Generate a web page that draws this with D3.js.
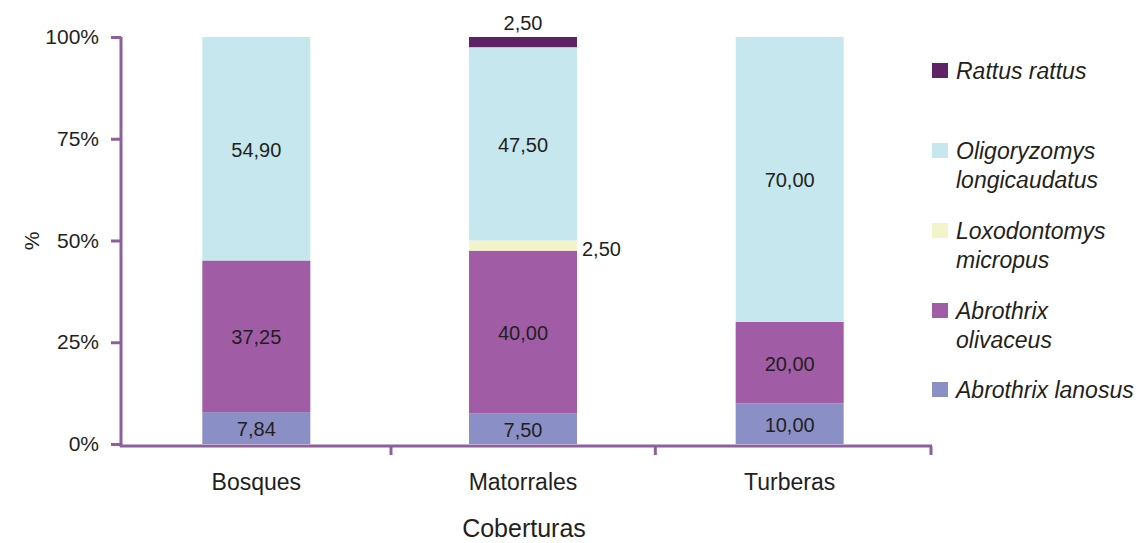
<!DOCTYPE html>
<html><head><meta charset="utf-8">
<script src="https://cdn.jsdelivr.net/npm/d3@7"></script>
<style>body{margin:0;background:#fff}svg{display:block}text{font-family:"Liberation Sans",Arial,sans-serif;fill:#231f20}</style>
</head><body><svg id="c" width="1143" height="543"></svg>
<script>
const categories = ["Bosques", "Matorrales", "Turberas"];
const seriesNames = ["Abrothrix lanosus", "Abrothrix olivaceus", "Loxodontomys micropus", "Oligoryzomys longicaudatus", "Rattus rattus"];
const lanosus = [7.84, 7.50, 10.00];
const olivaceus = [37.25, 40.00, 20.00];
const loxodontomys = [0, 2.50, 0];
const oligoryzomys = [54.90, 47.50, 70.00];
const rattus = [0, 2.50, 0];
const yTicks = [0, 25, 50, 75, 100];
const colors = ["#8a90c6", "#a05da5", "#f4f4cb", "#c5e7ed", "#5e2265"];
const legendLines = [
  ["Rattus rattus"],
  ["Oligoryzomys", "longicaudatus"],
  ["Loxodontomys", "micropus"],
  ["Abrothrix", "olivaceus"],
  ["Abrothrix lanosus"]
];
const legendColors = [colors[4], colors[3], colors[2], colors[1], colors[0]];

const seriesVals = [lanosus, olivaceus, loxodontomys, oligoryzomys, rattus];
const data = categories.map((c, i) => {
  const o = {cat: c};
  seriesNames.forEach((s, k) => o[s] = seriesVals[k][i]);
  return o;
});
const stack = d3.stack().keys(seriesNames)(data);

const svg = d3.select("#c");
const axisColor = "#8c5f9d";
const x = d3.scaleBand().domain(categories).range([122, 922]).paddingInner(0).paddingOuter(0);
const y = d3.scaleLinear().domain([0, 100]).range([444, 37]);
const barW = 108;

// bars
stack.forEach((layer, k) => {
  svg.append("g").selectAll("rect").data(layer).join("rect")
    .attr("x", d => x(d.data.cat) + x.bandwidth() / 2 - barW / 2 + 1)
    .attr("width", barW)
    .attr("y", d => y(d[1]))
    .attr("height", d => y(d[0]) - y(d[1]))
    .attr("fill", colors[k]);
});

// labels
stack.forEach((layer, k) => {
  layer.forEach(d => {
    const v = d[1] - d[0];
    if (v <= 0) return;
    const cx = x(d.data.cat) + x.bandwidth() / 2 + 1;
    let tx = cx, ty = (y(d[0]) + y(d[1])) / 2 + 1, anchor = "middle";
    if (seriesNames[k] === "Rattus rattus") { ty = y(d[1]) - 14; }
    else if (seriesNames[k] === "Loxodontomys micropus") { tx = cx + barW / 2 + 5; anchor = "start"; ty += 2; }
    svg.append("text").attr("x", tx).attr("y", ty).attr("dy", "0.35em")
      .attr("text-anchor", anchor).attr("font-size", 20)
      .text(d3.format(".2f")(v).replace(".", ","));
  });
});

// y axis
const yAxis = svg.append("g").attr("transform", "translate(121,0)")
  .call(d3.axisLeft(y).tickValues(yTicks).tickSize(10).tickPadding(12).tickFormat(d => d + "%"));
yAxis.select(".domain").attr("d", "M0,37V447").attr("stroke", axisColor).attr("stroke-width", 3);
yAxis.selectAll(".tick line").attr("stroke", axisColor).attr("stroke-width", 3);
yAxis.selectAll(".tick text").attr("font-size", 21).attr("fill", "#231f20").style("font-family", '"Liberation Sans",Arial,sans-serif');

// x axis
const xAxisY = 446;
svg.append("line").attr("x1", 120).attr("x2", 932).attr("y1", xAxisY).attr("y2", xAxisY)
  .attr("stroke", axisColor).attr("stroke-width", 3);
const tickXs = categories.map(c => x(c) + x.bandwidth());
tickXs[tickXs.length - 1] = 931;
tickXs[0] = 391;
svg.append("g").selectAll("line").data(tickXs).join("line")
  .attr("x1", d => d).attr("x2", d => d).attr("y1", xAxisY).attr("y2", xAxisY + 9)
  .attr("stroke", axisColor).attr("stroke-width", 3);
svg.append("g").selectAll("text").data(categories).join("text")
  .attr("x", d => x(d) + x.bandwidth() / 2 + 1).attr("y", 482).attr("dy", "0.35em")
  .attr("text-anchor", "middle").attr("font-size", 23).text(d => d);

svg.append("text").attr("x", 524).attr("y", 528).attr("dy", "0.35em")
  .attr("text-anchor", "middle").attr("font-size", 25).text("Coberturas");
svg.append("text").attr("transform", "translate(32,241) rotate(-90)").attr("dy", "0.35em")
  .attr("text-anchor", "middle").attr("font-size", 21).text("%");

// legend
const legTops = [63, 143, 223, 303, 382];
legendLines.forEach((lines, i) => {
  svg.append("rect").attr("x", 932).attr("y", legTops[i]).attr("width", 16).attr("height", 15).attr("fill", legendColors[i]);
  lines.forEach((t, j) => {
    svg.append("text").attr("x", 956).attr("y", legTops[i] + 8 + j * 29).attr("dy", "0.35em")
      .attr("font-size", 23).attr("font-style", "italic").text(t);
  });
});
</script></body></html>
